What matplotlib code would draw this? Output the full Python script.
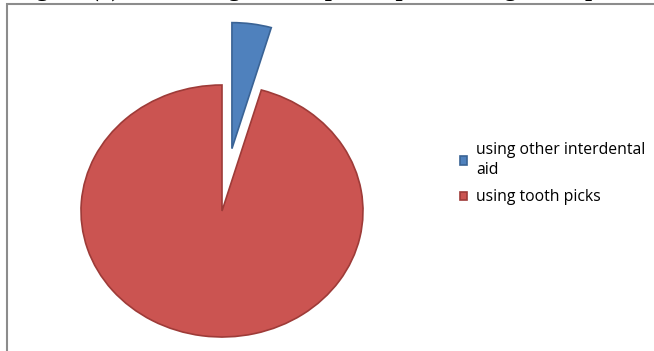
import matplotlib.pyplot as plt
from matplotlib.patches import Rectangle

labels = ["using other interdental\naid", "using tooth picks"]
values = [4.5, 95.5]
colors = ["#4F81BD", "#CB5451"]
edge_colors = ["#3A6395", "#9E3B38"]
explode = [0.5, 0.0]
title = "Figure (3): Percentage of the participants using tooth picks and other interdental aids"


def build_plot():
    fig = plt.figure(figsize=(6.54, 3.51), dpi=100)
    W, H = 654, 351

    # title, only the descenders show below the top edge
    fig.text(14 / W, 1 + 4 / H, title, fontfamily="Liberation Serif",
             fontweight="bold", fontsize=18, va="baseline", ha="left")

    # chart frame
    fig.patches.append(Rectangle((7 / W, -0.1), 1.2, 1 - 4 / H + 0.1,
                                 transform=fig.transFigure, fill=False,
                                 edgecolor="#8C8C8C", linewidth=1.5))

    # pie axes: center (222, 211) px, rx 141 px, ry 126 px
    cx, cy, rx, ry = 222, 211, 141, 126
    x0, x1, y0, y1 = -1.1, 1.1, -1.1, 1.6
    ax = fig.add_axes([(cx + x0 * rx) / W, (H - cy - (-y0) * ry) / H,
                       (x1 - x0) * rx / W, (y1 - y0) * ry / H])
    wedges, _ = ax.pie(values, colors=colors, explode=explode, startangle=90,
                       counterclock=False, radius=1.0,
                       wedgeprops=dict(linewidth=1.2))
    for w, ec in zip(wedges, edge_colors):
        w.set_edgecolor(ec)
    ax.set_aspect("auto")
    ax.set_xlim(x0, x1)
    ax.set_ylim(y0, y1)
    ax.axis("off")

    leg = fig.legend(wedges, labels, loc="upper left",
                     bbox_to_anchor=(446 / W, 1 - 128 / H), frameon=False,
                     prop=dict(family="Open Sans", size=11.3),
                     handlelength=0.45, handleheight=0.45, handletextpad=0.55,
                     labelspacing=0.7)
    for t in leg.get_texts():
        t.set_linespacing(1.35)

    fig.savefig("out.png", dpi=100)


if __name__ == "__main__":
    build_plot()
